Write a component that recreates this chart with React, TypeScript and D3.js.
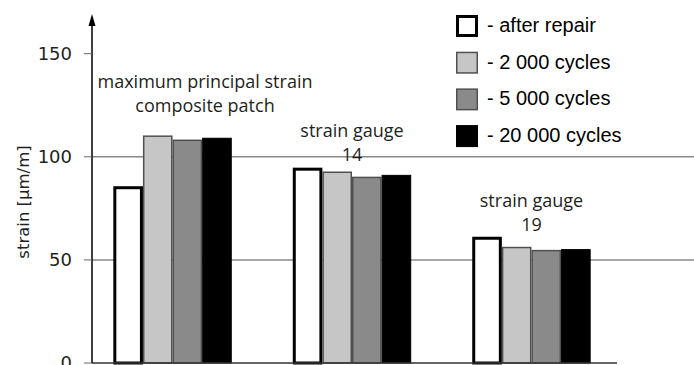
import * as d3 from 'd3'

const groups = ['g1', 'g2', 'g3']
const groupLabels = [
    ['maximum principal strain', 'composite patch'],
    ['strain gauge', '14'],
    ['strain gauge', '19']
]
// strain level where each group's caption sits
const labelAt = [133.4, 109.8, 75.8]
const seriesKeys = ['after repair', '2 000 cycles', '5 000 cycles', '20 000 cycles']
const afterRepair = [85, 94, 60.5]
const cycles2000 = [110, 92.5, 56]
const cycles5000 = [108, 90, 54.5]
const cycles20000 = [109, 91, 55]
const yTicks = [0, 50, 100, 150]

const seriesValues = [afterRepair, cycles2000, cycles5000, cycles20000]
const fills = ['#ffffff', '#c6c6c6', '#8a8a8a', '#000000']
const strokes = ['#000000', '#505050', '#505050', '#000000']
const strokeWidths = [3, 1.5, 1.5, 1]

const width = 694
const height = 365
const axisX = 92
const labelFont = '"Open Sans", sans-serif'
const axisFont = 'DejaVu Sans, Verdana, sans-serif'

export default function App() {
    const y = d3.scaleLinear().domain([0, 150]).range([363, 53.7])
    const x = d3
        .scaleBand()
        .domain(groups)
        .range([90, 614])
        .paddingInner(0.34)
        .paddingOuter(0.13)
    const xs = d3.scaleBand().domain(seriesKeys).range([0, x.bandwidth()])

    return (
        <svg
            width={width}
            height={height}
            style={{ position: 'absolute', left: 0, top: 0, background: '#fff' }}
        >
            {/* gridlines */}
            {yTicks
                .filter((t) => t > 0 && t < 150)
                .map((t) => (
                    <line
                        key={t}
                        x1={axisX}
                        x2={width}
                        y1={y(t)}
                        y2={y(t)}
                        stroke="#888"
                        strokeWidth={1.5}
                    />
                ))}
            {/* bars */}
            {groups.map((g, gi) => (
                <g key={g} transform={`translate(${x(g)},0)`}>
                    {seriesKeys.map((k, si) => {
                        const v = seriesValues[si][gi]
                        const sw = strokeWidths[si]
                        return (
                            <rect
                                key={k}
                                x={(xs(k) ?? 0) + sw / 2}
                                y={y(v)}
                                width={xs.bandwidth() - sw}
                                height={y(0) - y(v)}
                                fill={fills[si]}
                                stroke={strokes[si]}
                                strokeWidth={sw}
                            />
                        )
                    })}
                </g>
            ))}
            {/* group labels */}
            {groups.map((g, gi) => {
                const center = (x(g) ?? 0) + x.bandwidth() / 2
                // the first caption is pushed right so it clears the y axis
                const cx = gi === 0 ? axisX + 113 : center
                const base = y(labelAt[gi])
                return (
                    <text
                        key={g}
                        textAnchor="middle"
                        fontFamily={labelFont}
                        fontSize={18}
                        fill="#231f20"
                    >
                        <tspan x={cx} y={base}>
                            {groupLabels[gi][0]}
                        </tspan>
                        <tspan x={cx} y={base + 24}>
                            {groupLabels[gi][1]}
                        </tspan>
                    </text>
                )
            })}
            {/* x axis */}
            <line x1={axisX} x2={617} y1={y(0)} y2={y(0)} stroke="#333" strokeWidth={1.5} />
            {/* y axis */}
            <line x1={axisX} x2={axisX} y1={y(0)} y2={24} stroke="#000" strokeWidth={1.5} />
            <path d={`M${axisX},14 L${axisX - 3.5},26 L${axisX + 3.5},26 Z`} fill="#000" />
            {yTicks.map((t) => (
                <g key={t}>
                    <line x1={axisX - 8} x2={axisX} y1={y(t)} y2={y(t)} stroke="#666" strokeWidth={1} />
                    <text
                        x={72}
                        y={y(t)}
                        dy="0.36em"
                        textAnchor="end"
                        fontFamily={axisFont}
                        fontSize={18}
                        fill="#231f20"
                    >
                        {t}
                    </text>
                </g>
            ))}
            <text
                transform={`translate(29,${202}) rotate(-90)`}
                textAnchor="middle"
                fontFamily={axisFont}
                fontSize={16.5}
                fill="#231f20"
            >
                strain [µm/m]
            </text>
            {/* legend */}
            {seriesKeys.map((k, si) => (
                <g key={k} transform={`translate(456,${15 + si * 36.7})`}>
                    <rect
                        x={strokeWidths[si] / 2}
                        y={strokeWidths[si] / 2}
                        width={22 - strokeWidths[si]}
                        height={22 - strokeWidths[si]}
                        fill={fills[si]}
                        stroke={strokes[si]}
                        strokeWidth={strokeWidths[si]}
                    />
                    <text
                        x={31}
                        y={17}
                        fontFamily='"Liberation Sans", Arial, sans-serif'
                        fontSize={20}
                        fill="#000"
                    >
                        {`- ${k}`}
                    </text>
                </g>
            ))}
        </svg>
    )
}
